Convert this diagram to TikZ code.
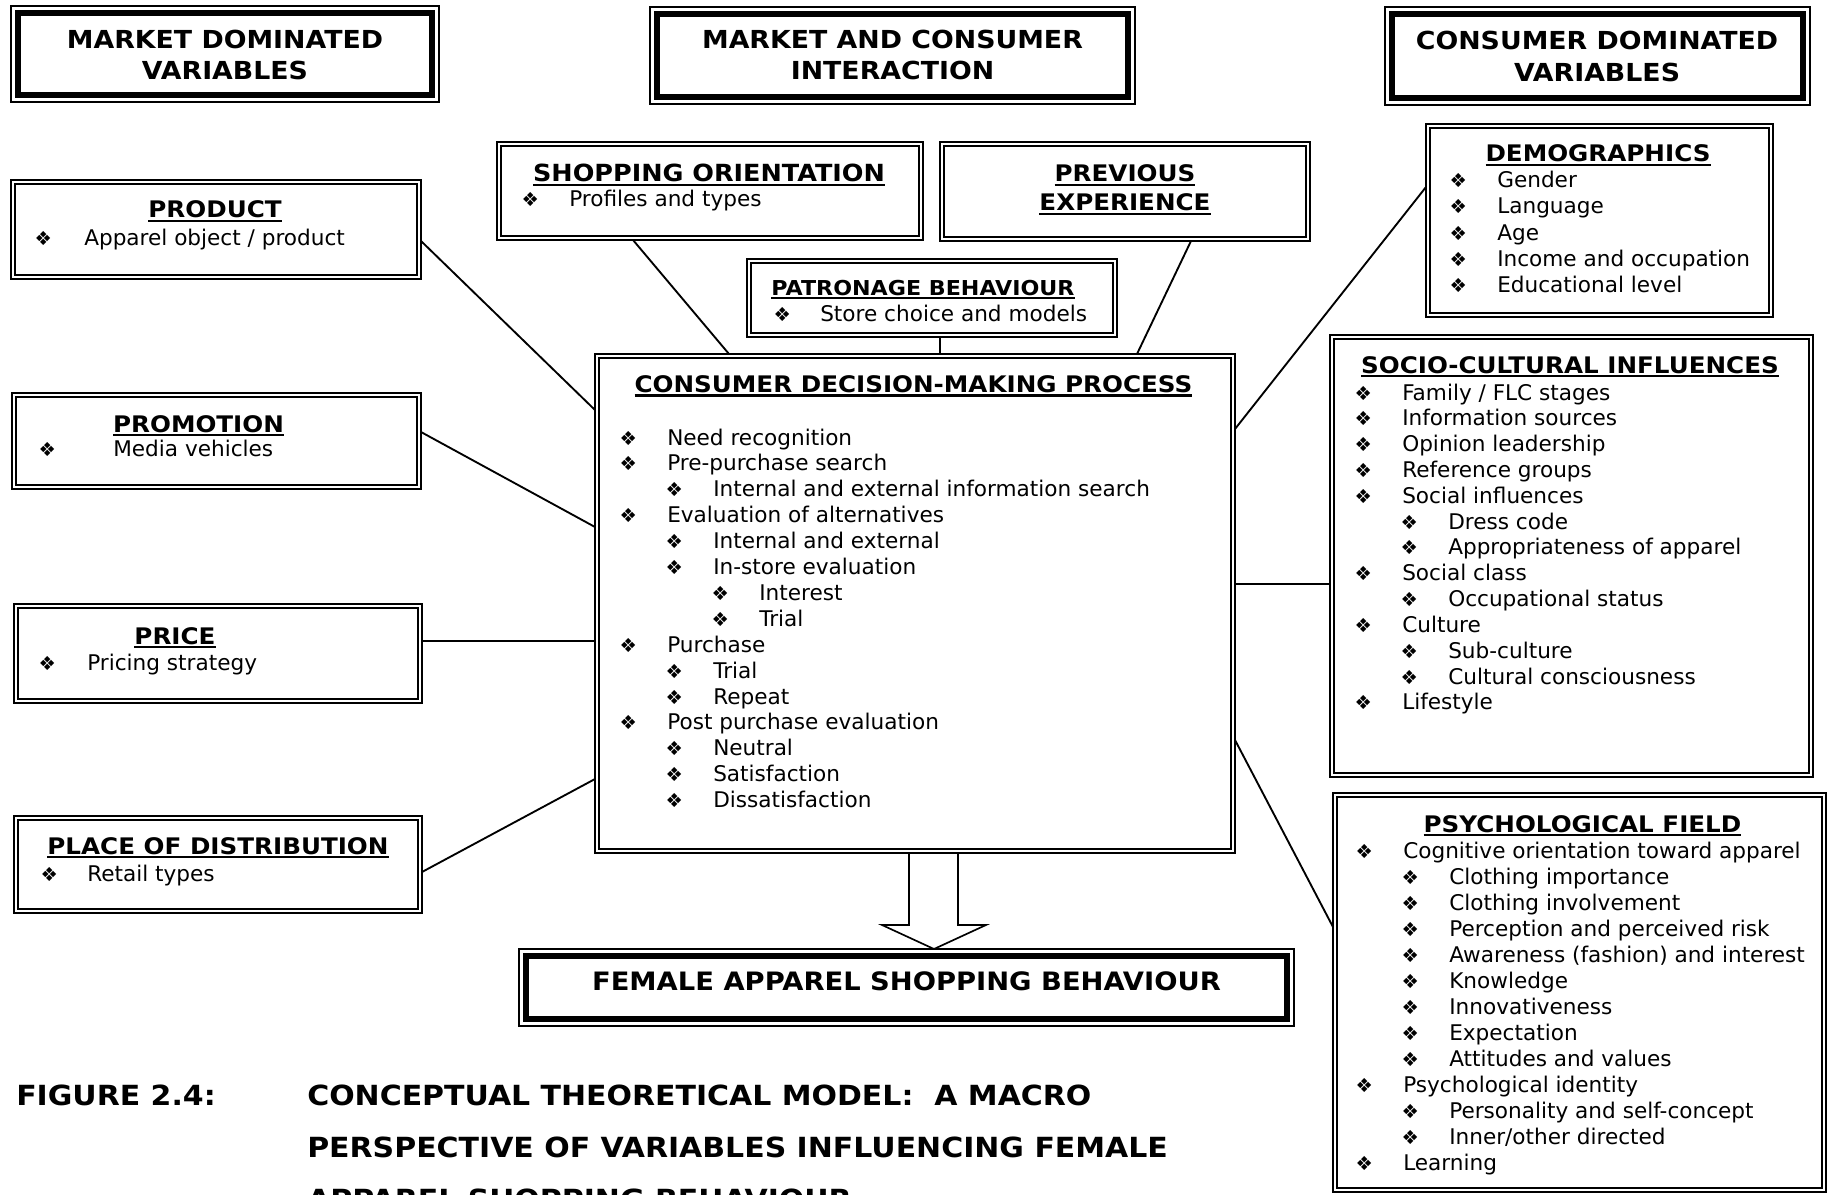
\documentclass[tikz,border=0pt]{standalone}
\usepackage{fontspec}
\setmainfont{DejaVu Sans}
\newfontfamily\hdfam{DejaVu Sans}[FakeStretch=1.08]
\usetikzlibrary{fit,calc}

% one pixel of the drawing grid
\newlength\pxu
\setlength\pxu{0.75pt}

% heavy underline for the box headings
\newsavebox\ulbox
\newcommand\ulx[1]{\sbox\ulbox{#1}\rlap{\usebox\ulbox}\rule[-4\pxu]{\wd\ulbox}{2.3\pxu}}

\newcommand\bodyfont{\fontsize{16.2pt}{19.5pt}\selectfont}
\newcommand\headfont{\hdfam\bfseries\fontsize{17.1pt}{20pt}\selectfont}
\newcommand\ttlfont{\hdfam\bfseries\fontsize{18.6pt}{22pt}\selectfont}
\newcommand\capfont{\hdfam\bfseries\fontsize{20.8pt}{24pt}\selectfont}

% bullet centred half the given width left of the text start
\newcommand\bul[1][78]{\llap{\makebox[#1\pxu][c]{\fontsize{14.5pt}{15pt}\selectfont ❖}}}

% bulleted list: name prefix, x of level-1 text, first baseline, line step, level/text pairs
\newcommand\blist[5]{%
  \foreach \lv/\tx [count=\i from 0] in {#5}
    {\node[item] (#1\i) at ({#2+(\lv-1)*46},{#3+\i*#4}) {\bul\tx};}}

\begin{document}
\begin{tikzpicture}[x=0.75pt,y=-0.75pt,
  cbox/.style={draw, line width=2pt, inner sep=0pt, outer sep=0pt},
  tbox/.style={draw, line width=1.2pt, inner sep=0pt, outer sep=0pt},
  cinner/.style={line width=1.5pt},
  tinner/.style={line width=4.6pt},
  link/.style={line width=1.4pt},
  item/.style={anchor=base west, inner sep=0pt, font=\bodyfont},
  head/.style={anchor=base, inner sep=0pt, font=\headfont},
  ttl/.style={anchor=base, inner sep=0pt, font=\ttlfont},
  captxt/.style={anchor=base west, inner sep=0pt, font=\capfont},
  fatarrow/.style={line width=1.25pt, line join=miter}]

\useasboundingbox (0,0) rectangle (1828,1195);
\clip (0,0) rectangle (1828,1195);
\fill[white] (0,0) rectangle (1828,1195);

% ---------- column titles and result box ----------
\node[tbox, fit={(11,6) (439,102)}] (mdv) {};
\node[tbox, fit={(650,7) (1135,104)}] (mci) {};
\node[tbox, fit={(1385,7) (1810,105)}] (cdv) {};
\node[tbox, fit={(519,949) (1294,1026)}] (fem) {};
\foreach \n in {mdv,mci,cdv,fem}
  \draw[tinner] ([shift={(6.6,6.6)}]\n.north west) rectangle ([shift={(-6.6,-6.6)}]\n.south east);

\node[ttl] (mdv1) at (225,48.5) {MARKET DOMINATED};
\node[ttl] (mdv2) at (225,79.5) {VARIABLES};
\node[ttl] (mci1) at (892.5,49) {MARKET AND CONSUMER};
\node[ttl] (mci2) at (892.5,80) {INTERACTION};
\node[ttl] (cdv1) at (1597,50) {CONSUMER DOMINATED};
\node[ttl] (cdv2) at (1597,81.5) {VARIABLES};
\node[ttl, font={\hdfam\bfseries\fontsize{19pt}{22pt}\selectfont}] (femt) at (906.5,990) {FEMALE APPAREL SHOPPING BEHAVIOUR};

% ---------- content boxes ----------
\node[cbox, fit={(11,180) (421,279)}] (prod) {};
\node[cbox, fit={(12,393) (421,489)}] (prom) {};
\node[cbox, fit={(14,604) (422,703)}] (price) {};
\node[cbox, fit={(14,816) (422,913)}] (place) {};
\node[cbox, fit={(497,142) (923,240)}] (shop) {};
\node[cbox, fit={(940,142) (1310,241)}] (prev) {};
\node[cbox, fit={(747,259) (1117,337)}] (patr) {};
\node[cbox, fit={(1426,124) (1773,317)}] (demo) {};
\node[cbox, fit={(595,354) (1235,853)}] (cdmp) {};
\node[cbox, fit={(1330,335) (1813,777)}] (socio) {};
\node[cbox, fit={(1333,793) (1826,1192)}] (psych) {};
\foreach \n in {prod,prom,price,place,shop,prev,patr,demo,cdmp,socio,psych}
  \draw[cinner] ([shift={(4.3,4.3)}]\n.north west) rectangle ([shift={(-4.3,-4.3)}]\n.south east);

% market dominated variables
\node[head] (prodh) at (215,218) {\ulx{PRODUCT}};
\node[item] (prodi) at (84,245) {\bul[82]Apparel object / product};
\node[head] (promh) at (198.5,432) {\ulx{PROMOTION}};
\node[item] (promi) at (113,456) {\bul[132]Media vehicles};
\node[head] (priceh) at (175,644) {\ulx{PRICE}};
\node[item] (pricei) at (87,670) {\bul[80]Pricing strategy};
\node[head] (placeh) at (218,854) {\ulx{PLACE OF DISTRIBUTION}};
\node[item] (placei) at (87,881) {\bul[76]Retail types};

% market and consumer interaction
\node[head, font={\hdfam\bfseries\fontsize{17.7pt}{20pt}\selectfont}] (shoph) at (709,182) {\ulx{SHOPPING ORIENTATION}};
\node[item] (shopi) at (569,207) {\bul[78]Profiles and types};
\node[head] (prevh1) at (1125,182) {\ulx{PREVIOUS}};
\node[head] (prevh2) at (1125,211) {\ulx{EXPERIENCE}};
\node[head, font={\hdfam\bfseries\fontsize{15.4pt}{18pt}\selectfont}] (patrh) at (923,295) {\ulx{PATRONAGE BEHAVIOUR}};
\node[item] (patri) at (820,321) {\bul[76]Store choice and models};

% consumer decision-making process
\node[head] (cdmph) at (913.5,392.7) {\ulx{CONSUMER DECISION-MAKING PROCESS}};
\blist{cd}{667}{445}{25.9}{1/Need recognition, 1/Pre-purchase search,
  2/Internal and external information search, 1/Evaluation of alternatives,
  2/Internal and external, 2/In-store evaluation, 3/Interest, 3/Trial,
  1/Purchase, 2/Trial, 2/Repeat, 1/Post purchase evaluation,
  2/Neutral, 2/Satisfaction, 2/Dissatisfaction}

% consumer dominated variables
\node[head] (demoh) at (1598,162) {\ulx{DEMOGRAPHICS}};
\blist{dm}{1497}{188}{26}{1/Gender, 1/Language, 1/Age,
  1/Income and occupation, 1/Educational level}

\node[head] (socioh) at (1570,373) {\ulx{SOCIO-CULTURAL INFLUENCES}};
\blist{sc}{1402}{400}{25.83}{1/{Family / FLC stages}, 1/Information sources,
  1/Opinion leadership, 1/Reference groups, 1/Social influences,
  2/Dress code, 2/Appropriateness of apparel, 1/Social class,
  2/Occupational status, 1/Culture, 2/Sub-culture,
  2/Cultural consciousness, 1/Lifestyle}

\node[head] (psychh) at (1582.5,832) {\ulx{PSYCHOLOGICAL FIELD}};
\blist{ps}{1403}{858}{26}{1/Cognitive orientation toward apparel,
  2/Clothing importance, 2/Clothing involvement,
  2/Perception and perceived risk, 2/{Awareness (fashion) and interest},
  2/Knowledge, 2/Innovativeness, 2/Expectation, 2/Attitudes and values,
  1/Psychological identity, 2/Personality and self-concept,
  2/{Inner/other directed}, 1/Learning}

% ---------- connectors ----------
\draw[link] ($(prod.north east)+(0,61)$) -- ($(cdmp.north west)+(0,56)$);
\draw[link] ($(prom.north east)+(0,39)$) -- ($(cdmp.north west)+(0,173)$);
\draw[link] ($(price.north east)+(0,37)$) -- ($(cdmp.north west)+(0,287)$);
\draw[link] ($(place.north east)+(0,56)$) -- ($(cdmp.north west)+(0,425)$);
\draw[link] ($(shop.south west)+(136,0)$) -- ($(cdmp.north west)+(134,0)$);
\draw[link] ($(patr.south west)+(193,0)$) -- ($(cdmp.north west)+(345,0)$);
\draw[link] ($(prev.south west)+(251,0)$) -- ($(cdmp.north west)+(542,0)$);
\draw[link] ($(demo.north west)+(0,63)$) -- ($(cdmp.north east)+(0,75)$);
\draw[link] ($(socio.north west)+(0,249)$) -- ($(cdmp.north east)+(0,230)$);
\draw[link] ($(psych.north west)+(0,134)$) -- ($(cdmp.north east)+(0,386)$);

% hollow block arrow into the result box
\coordinate (as) at ($(cdmp.south west)+(339,0)$);
\coordinate (at) at ($(fem.north west)+(415,0)$);
\draw[fatarrow] ($(as)+(-25,0)$) -- ($(at)+(-25,-24)$) -- ($(at)+(-52,-24)$) -- (at)
  -- ($(at)+(52,-24)$) -- ($(at)+(24,-24)$) -- ($(as)+(24,0)$);

% ---------- caption ----------
\node[captxt] (fig) at (16,1105) {FIGURE 2.4:};
\node[captxt] (cap1) at (307,1105) {CONCEPTUAL THEORETICAL MODEL:\ \ A MACRO};
\node[captxt] (cap2) at (307,1157) {PERSPECTIVE OF VARIABLES INFLUENCING FEMALE};
\node[captxt] (cap3) at (307,1209) {APPAREL SHOPPING BEHAVIOUR};
\end{tikzpicture}
\end{document}
